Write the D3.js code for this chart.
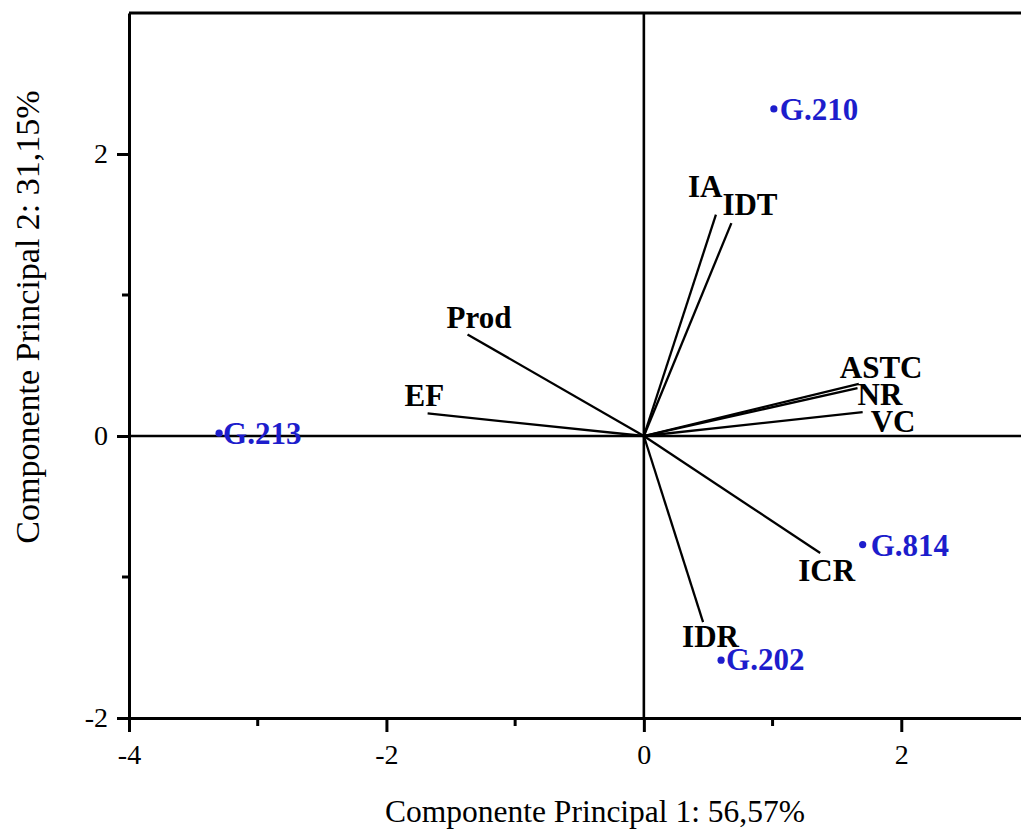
<!DOCTYPE html>
<html>
<head>
<meta charset="utf-8">
<script src="https://cdn.jsdelivr.net/npm/d3@7"></script>
<style>
  html, body { margin: 0; padding: 0; background: #fff; }
  svg { display: block; }
</style>
</head>
<body>
<svg id="chart" width="1021" height="832"></svg>
<script>
// ---- Data ----
const varNames = ["IA", "IDT", "Prod", "EF", "ASTC", "NR", "VC", "ICR", "IDR"];
const varPC1   = [0.56, 0.68, -1.37, -1.68, 1.67, 1.66, 1.70, 1.37, 0.46];
const varPC2   = [1.57, 1.51, 0.72, 0.16, 0.37, 0.34, 0.17, -0.83, -1.32];

const genNames = ["G.210", "G.213", "G.814", "G.202"];
const genPC1   = [1.01, -3.30, 1.70, 0.60];
const genPC2   = [2.32, 0.02, -0.77, -1.59];

const xMajorTicks = [-4, -2, 0, 2];
const xMinorTicks = [-3, -1, 1];
const yMajorTicks = [-2, 0, 2];
const yMinorTicks = [-1, 1];

const xTitle = "Componente Principal 1: 56,57%";
const yTitle = "Componente Principal 2: 31,15%";

// label offsets (pixels) relative to vector ends / points
const varLabelOffset = {
  IA: [-28, -18], IDT: [-9, -8], Prod: [-21, -6], EF: [-23, -7],
  ASTC: [-19, -6], NR: [0, 17], VC: [8, 20], ICR: [-22, 28], IDR: [-21, 25]
};
const genLabelOffset = {
  "G.210": [6, 11], "G.213": [4, 11], "G.814": [8, 11], "G.202": [5, 10]
};

// ---- Layout ----
const svg = d3.select("#chart");
const x = d3.scaleLinear().domain([-4, 3]).range([129, 1030]);
const y = d3.scaleLinear().domain([-2, 3]).range([718, 13]);

const serif = "'Liberation Serif', 'Times New Roman', serif";
const blue = "#1d1dcc";
const fmt = d => String(d);  // plain hyphen minus like the reference

// crosshair lines at 0
svg.append("line")
  .attr("x1", x(0)).attr("x2", x(0)).attr("y1", y(3)).attr("y2", y(-2))
  .attr("stroke", "#000").attr("stroke-width", 2.6);
svg.append("line")
  .attr("x1", x(-4)).attr("x2", x(3)).attr("y1", y(0)).attr("y2", y(0))
  .attr("stroke", "#000").attr("stroke-width", 2.6);

// frame (top + right)
svg.append("line")
  .attr("x1", x(-4)).attr("x2", x(3)).attr("y1", y(3)).attr("y2", y(3))
  .attr("stroke", "#000").attr("stroke-width", 3);
svg.append("line")
  .attr("x1", x(3)).attr("x2", x(3)).attr("y1", y(3)).attr("y2", y(-2))
  .attr("stroke", "#000").attr("stroke-width", 3);

// bottom axis
const xAxisG = svg.append("g").attr("transform", `translate(0,${y(-2)})`);
xAxisG.call(d3.axisBottom(x).tickValues(xMajorTicks).tickSize(14).tickSizeOuter(0).tickPadding(12)
  .tickFormat(fmt));
xAxisG.select(".domain").attr("stroke-width", 3);
xAxisG.selectAll(".tick line").attr("stroke-width", 3);
xAxisG.selectAll(".tick text").attr("font-family", serif).attr("font-size", 28).attr("fill", "#000");
xAxisG.selectAll(".minor").data(xMinorTicks).enter().append("line")
  .attr("x1", d => x(d)).attr("x2", d => x(d)).attr("y1", 0).attr("y2", 8)
  .attr("stroke", "#000").attr("stroke-width", 3);

// left axis
const yAxisG = svg.append("g").attr("transform", `translate(${x(-4)},0)`);
yAxisG.call(d3.axisLeft(y).tickValues(yMajorTicks).tickSize(12).tickSizeOuter(0).tickPadding(9)
  .tickFormat(fmt));
yAxisG.select(".domain").attr("stroke-width", 3);
yAxisG.selectAll(".tick line").attr("stroke-width", 3);
yAxisG.selectAll(".tick text").attr("font-family", serif).attr("font-size", 28).attr("fill", "#000");
yAxisG.selectAll(".minor").data(yMinorTicks).enter().append("line")
  .attr("y1", d => y(d)).attr("y2", d => y(d)).attr("x1", 0).attr("x2", -7)
  .attr("stroke", "#000").attr("stroke-width", 3);

// axis titles
svg.append("text")
  .attr("x", 595).attr("y", 822).attr("text-anchor", "middle")
  .attr("font-family", serif).attr("font-size", 31.5).attr("fill", "#000")
  .text(xTitle);
svg.append("text")
  .attr("transform", "translate(39,317) rotate(-90)").attr("text-anchor", "middle")
  .attr("font-family", serif).attr("font-size", 34).attr("fill", "#000")
  .text(yTitle);

// vectors
const vars = varNames.map((n, i) => ({ name: n, pc1: varPC1[i], pc2: varPC2[i] }));
svg.selectAll(".vec").data(vars).enter().append("line")
  .attr("x1", x(0)).attr("y1", y(0))
  .attr("x2", d => x(d.pc1)).attr("y2", d => y(d.pc2))
  .attr("stroke", "#000").attr("stroke-width", 2.3);
svg.selectAll(".vlab").data(vars).enter().append("text")
  .attr("x", d => x(d.pc1) + varLabelOffset[d.name][0])
  .attr("y", d => y(d.pc2) + varLabelOffset[d.name][1])
  .attr("font-family", serif).attr("font-weight", "bold").attr("font-size", 31)
  .attr("fill", "#000")
  .text(d => d.name);

// genotype points
const gens = genNames.map((n, i) => ({ name: n, pc1: genPC1[i], pc2: genPC2[i] }));
svg.selectAll(".gpt").data(gens).enter().append("circle")
  .attr("cx", d => x(d.pc1)).attr("cy", d => y(d.pc2)).attr("r", 3.6)
  .attr("fill", blue);
svg.selectAll(".glab").data(gens).enter().append("text")
  .attr("x", d => x(d.pc1) + genLabelOffset[d.name][0])
  .attr("y", d => y(d.pc2) + genLabelOffset[d.name][1])
  .attr("font-family", serif).attr("font-weight", "bold").attr("font-size", 31)
  .attr("fill", blue)
  .text(d => d.name);
</script>
</body>
</html>
